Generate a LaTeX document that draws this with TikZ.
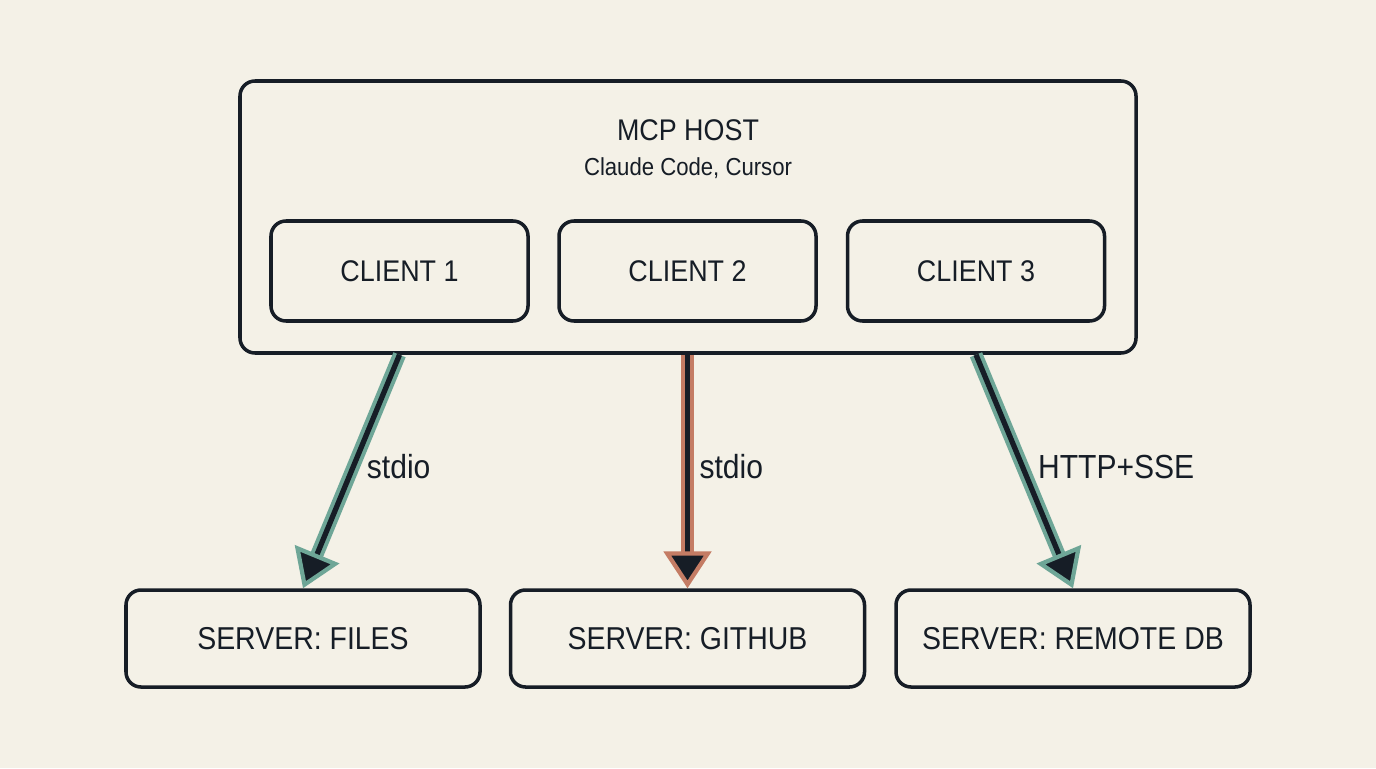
\documentclass[tikz,border=0pt]{standalone}
\usepackage{fontspec}
\setmainfont{Liberation Sans}[FakeStretch=0.9]
\usetikzlibrary{positioning,arrows.meta}

\definecolor{paper}{RGB}{244,241,231}
\definecolor{ink}{RGB}{22,29,38}
\definecolor{sea}{RGB}{110,166,151}
\definecolor{rust}{RGB}{196,124,100}

\begin{document}
\begin{tikzpicture}[
    box/.style={draw=ink, line width=2pt, rounded corners=0.3cm, fill=paper,
                align=center, text=ink, font=\fontsize{17}{20}\selectfont},
    client/.style={box, minimum width=5.14cm, minimum height=2cm},
    server/.style={box, minimum width=7.08cm, minimum height=1.94cm,
                   font=\fontsize{18}{21}\selectfont},
    link/.style={draw=ink, line width=3pt,
                 preaction={draw=#1, line width=7.5pt, -, shorten >=12pt},
                 -{Triangle[length=21pt, width=27pt, color=#1, fill=ink, line width=2.4pt]}},
    lbl/.style={text=ink, font=\fontsize{19}{22}\selectfont}
  ]
  % Fond
  \fill[paper] (0,0) rectangle (27.52,-15.36);
  \useasboundingbox (0,0) rectangle (27.52,-15.36);
  % Host
  \node[box, minimum width=17.92cm, minimum height=5.44cm] (host) at (13.76,-4.34) {};
  \node[text=ink, font=\fontsize{17}{20}\selectfont] (title) at (13.76,-2.6) {MCP HOST};
  \node[text=ink, font=\fontsize{14}{17}\selectfont] (apps) at (13.76,-3.36) {Claude Code, Cursor};
  % Clients
  \node[client] (c1) at (7.99,-5.42) {CLIENT 1};
  \node[client] (c2) at (13.75,-5.42) {CLIENT 2};
  \node[client] (c3) at (19.52,-5.42) {CLIENT 3};
  % Servers
  \node[server] (s1) at (6.06,-12.77) {SERVER: FILES};
  \node[server] (s2) at (13.75,-12.77) {SERVER: GITHUB};
  \node[server] (s3) at (21.46,-12.77) {SERVER: REMOTE DB};
  % Transports
  \draw[link=sea] (c1 |- host.south) -- node[lbl, pos=.48, right=3pt] (t1) {stdio} (s1.north);
  \draw[link=rust] (c2 |- host.south) -- node[lbl, pos=.48, right=2pt] (t2) {stdio} (s2.north);
  \draw[link=sea] (c3 |- host.south) -- node[lbl, pos=.48, right=4pt] (t3) {HTTP+SSE} (s3.north);
\end{tikzpicture}
\end{document}
